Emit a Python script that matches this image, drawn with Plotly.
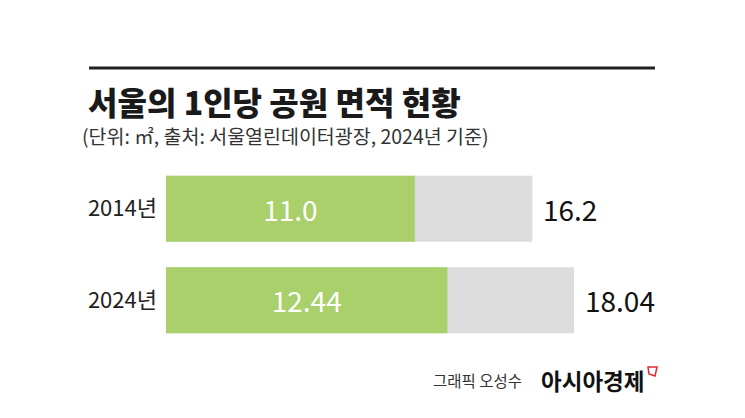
import plotly.graph_objects as go

years = ["2014년", "2024년"]
park_area = [11.0, 12.44]
total_area = [16.2, 18.04]
park_labels = ["11.0", "12.44"]
total_labels = ["16.2", "18.04"]

W, H = 745, 418
L, R, T, B = 166, 38, 163, 72
PW, PH = W - L - R, H - T - B

def px(x):
    return (x - L) / PW

def py(y):
    return (H - B - y) / PH

NUM = "Noto Sans CJK KR"
KR = "Noto Sans CJK KR"

fig = go.Figure()
fig.add_trace(go.Bar(
    y=years, x=total_area, orientation="h", width=0.72,
    marker=dict(color="#dcdcdc", line=dict(width=0)),
    hoverinfo="skip", showlegend=False,
))
fig.add_trace(go.Bar(
    y=years, x=park_area, orientation="h", width=0.72,
    marker=dict(color="#a9d06b", line=dict(width=0)),
    text=park_labels, textposition="inside", insidetextanchor="middle",
    textfont=dict(family=NUM, size=28, color="white"),
    hoverinfo="skip", showlegend=False,
))

for yv, xv, lab in zip(years, total_area, total_labels):
    fig.add_annotation(x=xv, y=yv, xref="x", yref="y", text=lab,
                       showarrow=False, xanchor="left", xshift=9,
                       font=dict(family=NUM, size=28, color="#111111"))

# title and subtitle
fig.add_annotation(x=px(86), y=py(101), xref="paper", yref="paper",
                   text="서울의 1인당 공원 면적 현황", showarrow=False,
                   xanchor="left", yanchor="middle",
                   font=dict(family=KR, size=32, color="#1a1a1a", weight=900))
fig.add_annotation(x=px(80), y=py(135), xref="paper", yref="paper",
                   text="(단위: ㎡, 출처: 서울열린데이터광장, 2024년 기준)", showarrow=False,
                   xanchor="left", yanchor="middle",
                   font=dict(family=KR, size=19.5, color="#333333"))
# footer
fig.add_annotation(x=px(431), y=py(380), xref="paper", yref="paper",
                   text="그래픽 오성수", showarrow=False,
                   xanchor="left", yanchor="middle",
                   font=dict(family=KR, size=15.5, color="#333333"))
fig.add_annotation(x=px(539), y=py(380), xref="paper", yref="paper",
                   text="<b>아시아경제</b>", showarrow=False,
                   xanchor="left", yanchor="middle",
                   font=dict(family=KR, size=22.5, color="#111111"))

fig.add_shape(type="line", xref="paper", yref="paper",
              x0=px(89), x1=px(655), y0=py(68), y1=py(68),
              line=dict(color="#222222", width=3))
fig.add_shape(type="path", xref="paper", yref="paper",
              path=f"M {px(648)},{py(367)} L {px(657)},{py(367)} L {px(655)},{py(376)} L {px(649)},{py(374)} Z",
              line=dict(color="#e0282e", width=1.5))

fig.update_layout(
    width=W, height=H,
    margin=dict(l=L, r=R, t=T, b=B),
    paper_bgcolor="white", plot_bgcolor="white",
    barmode="overlay",
    xaxis=dict(range=[0, PW / 22.62], visible=False, fixedrange=True),
    yaxis=dict(autorange="reversed", showgrid=False, zeroline=False,
               showline=False, ticks="", ticklabelstandoff=8, fixedrange=True,
               tickfont=dict(family=NUM, size=22, color="#222222")),
    uniformtext=dict(mode="show", minsize=10),
)

fig.write_html("out.html", config={"displayModeBar": False, "staticPlot": True},
               post_script="document.body.style.margin='0';document.body.style.padding='0';")
